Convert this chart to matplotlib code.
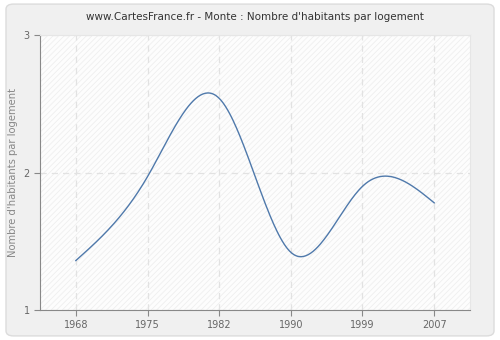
import numpy as np
import matplotlib.pyplot as plt
from matplotlib.patches import FancyBboxPatch

years = ["1968", "1975", "1982", "1990", "1999", "2007"]
values = [1.36, 1.97, 2.54, 1.42, 1.90, 1.78]


def natural_spline(x, y, n=300):
    # plain natural cubic spline, no scipy needed
    x = np.asarray(x, float)
    y = np.asarray(y, float)
    k = len(x)
    h = np.diff(x)
    A = np.zeros((k, k))
    b = np.zeros(k)
    A[0, 0] = A[-1, -1] = 1
    for i in range(1, k - 1):
        A[i, i - 1] = h[i - 1]
        A[i, i] = 2 * (h[i - 1] + h[i])
        A[i, i + 1] = h[i]
        b[i] = 3 * ((y[i + 1] - y[i]) / h[i] - (y[i] - y[i - 1]) / h[i - 1])
    c = np.linalg.solve(A, b)
    xs = np.linspace(x[0], x[-1], n)
    ys = np.empty_like(xs)
    for j, t in enumerate(xs):
        i = min(np.searchsorted(x, t, side="right") - 1, k - 2)
        d = t - x[i]
        bi = (y[i + 1] - y[i]) / h[i] - h[i] * (2 * c[i] + c[i + 1]) / 3
        di = (c[i + 1] - c[i]) / (3 * h[i])
        ys[j] = y[i] + bi * d + c[i] * d ** 2 + di * d ** 3
    return xs, ys


fig = plt.figure(figsize=(5, 3.4), dpi=100)
fig.patch.set_facecolor("white")
fig.patches.append(FancyBboxPatch((0.012, 0.012), 0.976, 0.976,
                                  boxstyle="round,pad=0,rounding_size=0.015",
                                  transform=fig.transFigure, facecolor="#f0f0f0",
                                  edgecolor="#dcdcdc", linewidth=1, zorder=-10))

ax = fig.add_axes([0.08, 0.088, 0.86, 0.809])
ax.set_facecolor("#fdfdfd")

x = np.arange(len(years))
xs, ys = natural_spline(x, values)

ax.set_xlim(-0.5, len(years) - 0.5)
ax.set_ylim(1, 3)

# light diagonal hatching in the plot area
plt.rcParams["hatch.linewidth"] = 0.6
ax.fill_between([-0.5, len(years) - 0.5], 1, 3, facecolor="none",
                edgecolor="#efefef", hatch="//////", linewidth=0, zorder=0)

ax.plot(xs, ys, color="#4f79ab", linewidth=1.0, zorder=3)

ax.set_xticks(x)
ax.set_xticklabels(years)
ax.set_yticks([1, 2, 3])
ax.grid(True, color="#e2e2e2", linestyle=(0, (5, 4)), linewidth=0.9, zorder=1)

for s in ["left", "bottom"]:
    ax.spines[s].set_color("#888888")
for s in ["top", "right"]:
    ax.spines[s].set_color("#e6e6e6")

ax.tick_params(colors="#888888", labelcolor="#666666", labelsize=7, length=4, direction="out")
ax.set_ylabel("Nombre d'habitants par logement", fontsize=7.2, color="#888888")
ax.set_title("www.CartesFrance.fr - Monte : Nombre d'habitants par logement",
             fontsize=7.5, color="#333333", pad=11)

fig.savefig("out.png", dpi=100)
